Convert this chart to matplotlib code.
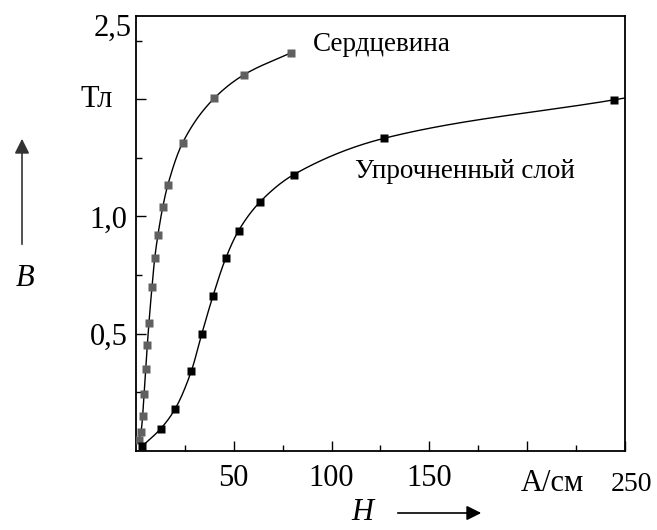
import numpy as np
import matplotlib.pyplot as plt
from matplotlib.ticker import FixedLocator

plt.rcParams['font.family'] = ['Liberation Serif', 'DejaVu Serif']

# Сердцевина (core)
h_core = [1.5, 2.6, 3.4, 4.1, 5.0, 5.8, 6.6, 8.2, 9.6, 11.2, 13.7, 16.2, 23.9, 39.9, 55.2, 79.4]
b_core = [0.045, 0.082, 0.150, 0.245, 0.349, 0.453, 0.544, 0.701, 0.824, 0.920, 1.041, 1.132,
          1.315, 1.503, 1.604, 1.698]

# Упрочненный слой (hardened layer)
h_layer = [3.2, 12.6, 19.9, 28.3, 33.7, 39.4, 45.9, 52.5, 63.2, 80.6, 126.8, 244.4]
b_layer = [0.021, 0.095, 0.178, 0.341, 0.501, 0.662, 0.822, 0.940, 1.060, 1.178, 1.333, 1.497]

x_ticks = [50, 100, 150, 200, 250]
x_labels = ['50', '100', '150', 'А/см', '250']
y_ticks = [0.5, 1.0, 1.5]
y_labels = ['0,5', '1,0', 'Тл']
y_top_label = '2,5'


def pchip(x, y, xs):
    # monotone cubic (Fritsch-Carlson)
    x = np.asarray(x, float)
    y = np.asarray(y, float)
    h = np.diff(x)
    d = np.diff(y) / h
    m = np.zeros_like(y)
    for k in range(1, len(x) - 1):
        if d[k - 1] * d[k] > 0:
            w1 = 2 * h[k] + h[k - 1]
            w2 = h[k] + 2 * h[k - 1]
            m[k] = (w1 + w2) / (w1 / d[k - 1] + w2 / d[k])
    m[0] = d[0]
    m[-1] = d[-1]
    idx = np.clip(np.searchsorted(x, xs) - 1, 0, len(x) - 2)
    t = (xs - x[idx]) / h[idx]
    h00 = 2 * t**3 - 3 * t**2 + 1
    h10 = t**3 - 2 * t**2 + t
    h01 = -2 * t**3 + 3 * t**2
    h11 = t**3 - t**2
    return h00 * y[idx] + h10 * h[idx] * m[idx] + h01 * y[idx + 1] + h11 * h[idx] * m[idx + 1]


fig = plt.figure(figsize=(6.57, 5.30), dpi=100)
ax = fig.add_axes([0.207, 0.149, 0.744, 0.821])

xs = np.linspace(h_core[0], h_core[-1], 400)
ax.plot(xs, pchip(h_core, b_core, xs), color='black', lw=1.0)
xs = np.linspace(h_layer[0], 250, 500)
ax.plot(xs, pchip(h_layer, b_layer, xs), color='black', lw=1.0)

ax.plot(h_core, b_core, 's', color='#606060', ms=5.8, mec='none', zorder=3)
ax.plot(h_layer, b_layer, 's', color='black', ms=5.8, mec='none', zorder=3)

ax.set_xlim(0, 250)
ax.set_ylim(0, 1.855)

ax.set_xticks(x_ticks)
ax.set_xticklabels(x_labels[:3] + ['', ''])
ax.xaxis.set_minor_locator(FixedLocator([25, 75, 125, 175, 225]))
ax.set_yticks(y_ticks)
ax.set_yticklabels(y_labels[:2] + [''])
ax.yaxis.set_minor_locator(FixedLocator([0.25, 0.75, 1.25, 1.75]))

ax.tick_params(which='major', direction='in', length=7, width=1.0, labelsize=22)
ax.tick_params(axis='y', which='major', pad=6)
ax.tick_params(axis='x', which='major', pad=9)
ax.tick_params(which='minor', direction='in', length=4, width=1.0)
for sp in ax.spines.values():
    sp.set_linewidth(1.3)

# labels that sit off the regular tick-label positions
xtr = ax.get_xaxis_transform()
ax.text(x_ticks[3] - 3, -0.092, x_labels[3], transform=xtr, ha='left', va='baseline', fontsize=22)
ax.text(x_ticks[4] + 3.5, -0.092, x_labels[4], transform=xtr, ha='center', va='baseline',
        fontsize=20)
ax.text(-0.047, y_ticks[2], y_labels[2], transform=ax.get_yaxis_transform(),
        ha='right', va='center', fontsize=22)
ax.text(-0.008, 0.972, y_top_label, transform=ax.transAxes, ha='right', va='center', fontsize=22)

ax.text(90.5, 1.735, 'Сердцевина', fontsize=19.5, ha='left', va='center')
ax.text(112, 1.19, 'Упрочненный слой', fontsize=19.5, ha='left', va='center')

# axis name labels with arrows (figure coordinates)
fig.text(362 / 657, 1 - 513 / 530, 'H', fontsize=22, style='italic', ha='center', va='center')
fig.text(25 / 657, 1 - 279 / 530, 'B', fontsize=22, style='italic', ha='center', va='center')
fig.add_artist(plt.Annotation('', xy=(484 / 657, 1 - 513 / 530), xytext=(395 / 657, 1 - 513 / 530),
                              xycoords='figure fraction',
                              arrowprops=dict(arrowstyle='-|>', color='black', lw=1.2,
                                              mutation_scale=22)))
fig.add_artist(plt.Annotation('', xy=(22 / 657, 1 - 136 / 530), xytext=(22 / 657, 1 - 247 / 530),
                              xycoords='figure fraction',
                              arrowprops=dict(arrowstyle='-|>', color='#333333', lw=1.2,
                                              mutation_scale=22)))

fig.savefig('out.png', dpi=100)
